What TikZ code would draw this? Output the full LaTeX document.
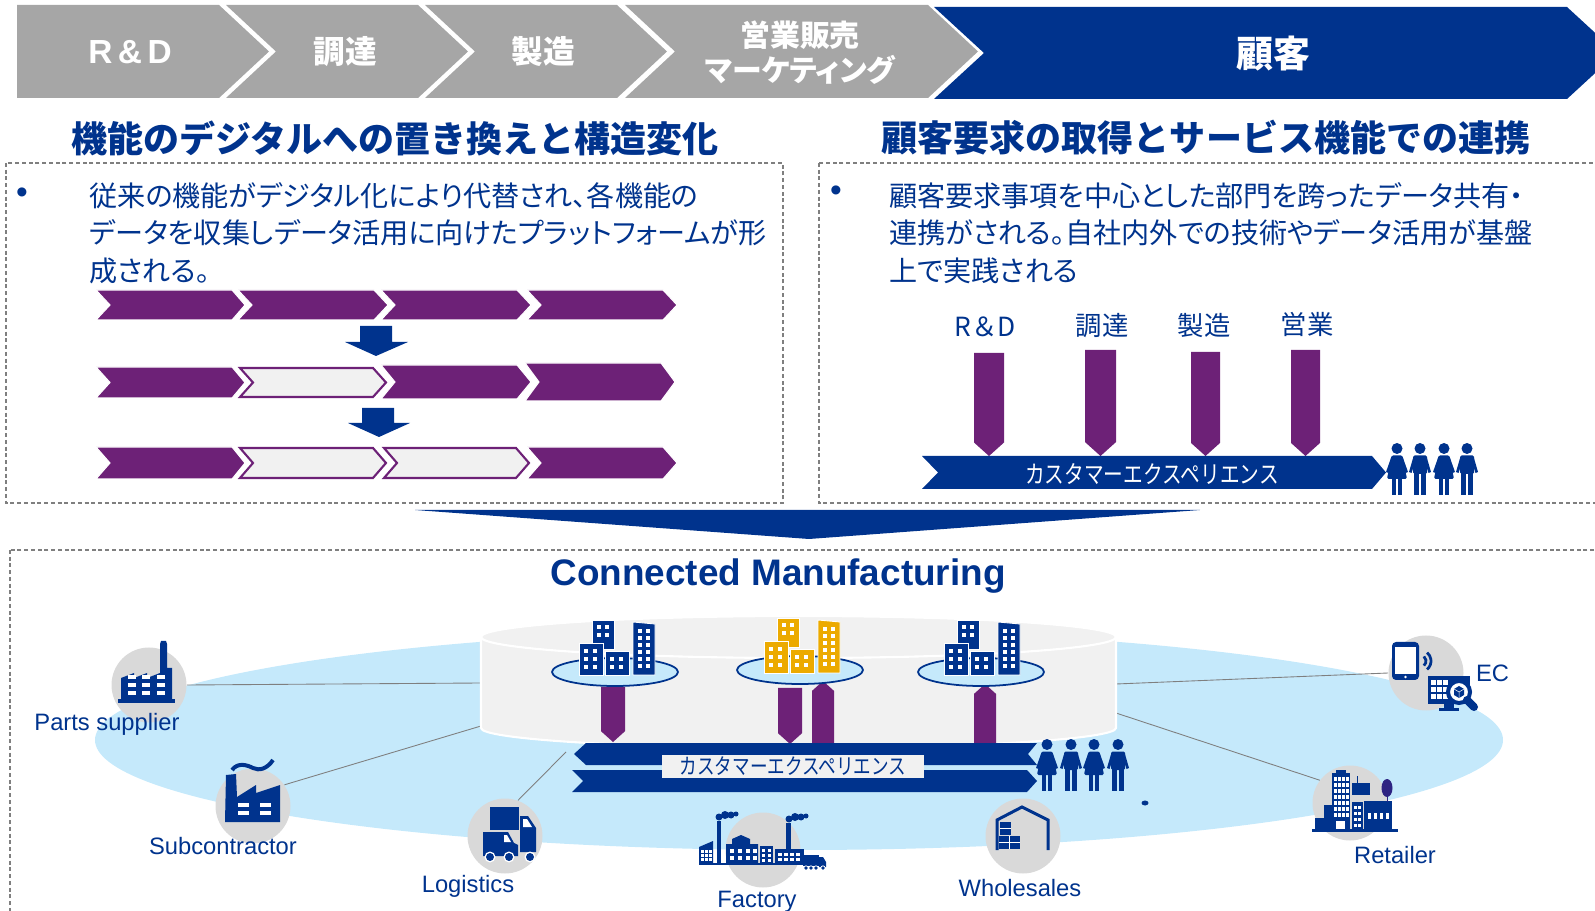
\documentclass[tikz,border=0pt]{standalone}
\usepackage{fontspec}
\setmainfont{Liberation Sans}
\newfontfamily\jp{Noto Sans CJK JP}
\newfontfamily\jpp[RawFeature=+palt]{Noto Sans CJK JP}
\newfontfamily\jpn[FakeStretch=0.8]{Noto Sans CJK JP}
\usetikzlibrary{positioning}

\definecolor{navy}{RGB}{0,51,141}
\definecolor{plum}{RGB}{109,33,119}
\definecolor{stepgray}{RGB}{166,166,166}
\definecolor{paper}{RGB}{241,241,241}
\definecolor{sky}{RGB}{197,233,251}
\definecolor{disc}{RGB}{217,217,217}
\definecolor{amber}{RGB}{236,170,0}
\definecolor{rule}{RGB}{127,127,127}
\definecolor{tree}{RGB}{45,35,130}

% chevron: [style]{left}{right}{top}{bottom}{tip depth}{notch depth}
\newcommand{\chev}[7][]{\path[#1] (#2,#4) -- (#3,#4) -- ({#3+#6},{(#4+#5)/2}) -- (#3,#5) -- (#2,#5) -- ({#2+#7},{(#4+#5)/2}) -- cycle;}
% bar pointing down: [style]{left}{right}{top}{tip}
\newcommand{\dbar}[5][]{\path[#1] (#2,#4) -- (#3,#4) -- (#3,{#5-0.45*(#3-#2)}) -- ({(#2+#3)/2},#5) -- (#2,{#5-0.45*(#3-#2)}) -- cycle;}
% bar pointing up: [style]{left}{right}{tip}{bottom}
\newcommand{\ubar}[5][]{\path[#1] (#2,#5) -- (#2,{#4+0.45*(#3-#2)}) -- ({(#2+#3)/2},#4) -- (#3,{#4+0.45*(#3-#2)}) -- (#3,#5) -- cycle;}

\tikzset{
  pics/man/.style={code={
    \fill[navy] (0,5.5) circle[radius=5.5];
    \fill[navy, rounded corners=0.3mm] (-7,12.5) rectangle (7,31);
    \fill[navy] (-6.5,13.5) -- (-11,29) -- (-8.5,30) -- (-4.5,18) -- cycle;
    \fill[navy] (6.5,13.5) -- (11,29) -- (8.5,30) -- (4.5,18) -- cycle;
    \fill[navy] (-6,29) rectangle (-0.7,52);
    \fill[navy] (0.7,29) rectangle (6,52);
  }},
  pics/woman/.style={code={
    \fill[navy] (0,5.5) circle[radius=5.5];
    \fill[navy, rounded corners=0.3mm] (-5.5,12.5) -- (5.5,12.5) -- (10,36) -- (-10,36) -- cycle;
    \fill[navy] (-5.5,13.5) -- (-11,29) -- (-8.5,30) -- (-4,18) -- cycle;
    \fill[navy] (5.5,13.5) -- (11,29) -- (8.5,30) -- (4,18) -- cycle;
    \fill[navy] (-4.8,35) rectangle (-1.2,52);
    \fill[navy] (1.2,35) rectangle (4.8,52);
  }},
  pics/city/.style={code={
    \begin{scope}[fill=#1, draw=white, line width=0.5pt]
      \filldraw (13,-55) rectangle (35,-26);
      \filldraw (0,-32) rectangle (24,0);
      \filldraw (26,-24) rectangle (50,0);
      \filldraw (54,-53) -- (76,-51) -- (76,0) -- (54,0) -- cycle;
    \end{scope}
    \foreach \u in {18,26} \foreach \v in {-50,-42} \fill[white] (\u,\v) rectangle +(4,4);
    \foreach \u in {5,14} \foreach \v in {-26,-18,-10} \fill[white] (\u,\v) rectangle +(4,4);
    \foreach \u in {31,40} \foreach \v in {-18,-10} \fill[white] (\u,\v) rectangle +(4,4);
    \foreach \u in {59,67} \foreach \v in {-46,-39,-32,-25,-18,-11} \fill[white] (\u,\v) rectangle +(4,4);
  }},
  pics/mill/.style={code={
    \fill[navy] (-28,15) -- (-28,-7) -- (-15,-12) -- (-15,-7) -- (-2,-12) -- (-2,-7) -- (11,-12) -- (11,-41) -- (12,-44) -- (17,-44) -- (18,-41) -- (18,-17) -- (23,-17) -- (23,15) -- cycle;
    \fill[navy] (-31,14) rectangle (26,18);
    \foreach \u in {-21,-7,8} \foreach \v in {-10,-2,6} \fill[white] (\u,\v) rectangle +(8,4);
  }},
  pics/works/.style={code={
    \fill[navy] (-28,16) -- (-27,-31) -- (-17,-32) -- (-16,-9) -- (3,-21) -- (3,-13) -- (27,-21) -- (27,16) -- cycle;
    \foreach \u in {-15,7} \foreach \v in {-3,5} \fill[white] (\u,\v) rectangle +(11,4);
    \draw[navy, line width=0.8mm] (-21,-36) .. controls (-15,-44) and (-6,-41) .. (0,-38) .. controls (6,-35) and (14,-37) .. (20,-46);
  }},
  pics/truck/.style={code={
    \fill[navy] (-15,-29) rectangle (14,-6);
    \fill[navy] (15,-20) -- (23,-20) -- (31,-8) -- (31,16) -- (15,16) -- cycle;
    \fill[white] (18,-17) -- (22,-17) -- (27,-9) -- (18,-9) -- cycle;
    \fill[navy] (-22,-4) -- (3,-4) -- (9,7) -- (13,9) -- (13,20) -- (-22,20) -- cycle;
    \fill[white] (-1,-1) -- (2,-1) -- (6,6) -- (-1,6) -- cycle;
    \foreach \u in {-15,4,25} {\fill[white] (\u,21) circle[radius=5.5]; \fill[navy] (\u,21) circle[radius=4];}
  }},
  pics/plant/.style={code={
    \fill[navy] (-64,-3) -- (-50,-9) -- (-50,14) -- (-64,14) -- cycle;
    \foreach \u in {-62,-58,-54} \foreach \v in {0,4,8} \fill[white] (\u,\v) rectangle +(2.5,2.5);
    \fill[navy] (-46,-29) rectangle (-42,14);
    \fill[navy] (-44,-33) circle[radius=3.5] (-38,-35) circle[radius=4] (-32,-35) circle[radius=3.5] (-27,-36) circle[radius=2.5];
    \fill[navy] (-37,14) -- (-37,-6) -- (-31,-6) -- (-31,-11) -- (-22,-15) -- (-13,-11) -- (-13,-6) -- (-5,-6) -- (-5,14) -- cycle;
    \foreach \u in {-33,-25,-17,-10} \foreach \v in {-1,6} \fill[white] (\u,\v) rectangle +(4,3.5);
    \fill[navy] (-3,-4) rectangle (10,14);
    \foreach \u in {-1,5} \foreach \v in {-1,4,9} \fill[white] (\u,\v) rectangle +(3,2.5);
    \fill[navy] (23,-27) rectangle (28,0);
    \fill[navy] (26,-31) circle[radius=3.5] (32,-33) circle[radius=4] (38,-33) circle[radius=3.5] (43,-34) circle[radius=2.5];
    \fill[navy] (12,14) -- (12,-1) -- (41,-1) -- (41,14) -- cycle;
    \foreach \u in {15,21,27,33} \foreach \v in {3,8} \fill[white] (\u,\v) rectangle +(3.5,3);
    \fill[navy] (40,5) rectangle (56,16);
    \fill[navy] (56,7) -- (60,7) -- (63,12) -- (63,17) -- (56,17) -- cycle;
    \fill[navy] (-64,13) rectangle (63,15);
    \foreach \u in {43,48,53,60} {\fill[white] (\u,18) circle[radius=2.6]; \fill[navy] (\u,18) circle[radius=1.8];}
  }},
  pics/store/.style={code={
    \draw[navy, line width=0.6mm] (-26,14) -- (-26,-16) -- (-1,-29) -- (25,-16) -- (25,14);
    \fill[navy] (-23,-14) rectangle (-12,-1);
    \fill[navy] (-24,0) rectangle (-3,13);
    \draw[white, line width=0.3pt] (-24,6.5) -- (-3,6.5) (-13.5,0) -- (-13.5,13) (-23,-8) -- (-12,-8);
  }},
  pics/shops/.style={code={
    \fill[navy] (-38,26) rectangle (48,29);
    \fill[navy] (-35,15) rectangle (-24,27);
    \fill[navy] (-26,2) rectangle (-17,27);
    \fill[navy] (-14,-33) rectangle (-4,-29);
    \fill[navy] (-18,-30) rectangle (0,27);
    \foreach \u in {-16,-12,-8,-4} \foreach \v in {-26,-20,-14,-8,-2,4,10} \fill[white] (\u,\v) rectangle +(2.5,3.5);
    \fill[white] (-14,18) rectangle (-5,26);
    \fill[navy] (2,-1) rectangle (13,27);
    \foreach \u in {4,8} \foreach \v in {3,9,15,21} \fill[white] (\u,\v) rectangle +(2.5,3);
    \fill[navy] (7,-27) rectangle (8,-20);
    \fill[navy] (2,-20) rectangle (20,-8);
    \fill[navy] (14,-2) rectangle (42,27);
    \foreach \u in {18,24,30,36} \fill[white] (\u,10) rectangle +(3,6);
    \fill[tree] (37,-15) ellipse[x radius=5.5, y radius=9];
    \fill[tree] (36.5,-6) rectangle (38,-1);
  }},
  pics/ecom/.style={code={
    \fill[navy, rounded corners=0.8mm] (-34,-31) rectangle (-7,7);
    \fill[white] (-31,-26) rectangle (-10,1);
    \fill[white] (-20.5,4) circle[radius=1.3];
    \draw[navy, line width=0.55mm] (-6,-12) ++(50:6) arc[start angle=50, end angle=-50, radius=6];
    \draw[navy, line width=0.55mm] (-6,-12) ++(50:11) arc[start angle=50, end angle=-50, radius=11];
    \fill[navy] (2,3) rectangle (44,31);
    \foreach \u in {5,11,17} \foreach \v in {7,14,21} \fill[white] (\u,\v) rectangle +(4.5,5);
    \fill[navy] (18,31) rectangle (28,35);
    \fill[navy] (13,35) rectangle (33,38);
    \filldraw[fill=white, draw=navy, line width=0.8mm] (33,19) circle[radius=11];
    \draw[navy, line width=1.6mm, line cap=round] (41,27) -- (48,34);
    \fill[navy] (33,13) -- (38,16) -- (38,22) -- (33,25) -- (28,22) -- (28,16) -- cycle;
    \draw[white, line width=0.3pt] (28,16) -- (33,19) -- (38,16) (33,19) -- (33,25);
  }}
}

\begin{document}
\begin{tikzpicture}
[
x=0.2mm, y=-0.2mm,
dashbox/.style={draw=rule, line width=0.75pt, dash pattern=on 0.8mm off 0.55mm},
stagename/.style={font=\jp\bfseries\fontsize{18}{21}\selectfont, text=white, align=center},
heading/.style={font=\jp\bfseries\fontsize{20.5}{24}\selectfont, text=navy},
body/.style={font=\jpp\fontsize{16}{21.3}\selectfont, text=navy, align=left, anchor=north west, inner sep=0pt},
bullet/.style={font=\fontsize{19}{20}\selectfont, text=navy},
tag/.style={font=\jp\fontsize{15}{18}\selectfont, text=navy},
plumchev/.style={fill=plum, draw=white, line width=0.6pt},
litechev/.style={fill=paper, draw=plum, line width=1.2pt},
cx/.style={font=\jpn\fontsize{14}{16}\selectfont, text=white},
hub/.style={circle, fill=disc, minimum size=15mm, inner sep=0pt},
sitename/.style={font=\fontsize{13.5}{16}\selectfont, text=navy},
link/.style={draw=rule, line width=0.5pt}
]
\useasboundingbox (0,0) rectangle (1595,911);

% value chain
\chev[fill=stepgray]{17}{219}{5}{98}{50}{0}
\chev[fill=stepgray]{226}{418}{5}{98}{50}{50}
\chev[fill=stepgray]{425}{617}{5}{98}{50}{50}
\chev[fill=stepgray]{625}{928}{5}{98}{50}{50}
\chev[fill=navy]{934}{1567}{7}{99}{50}{50}
\node[stagename, font=\bfseries\fontsize{19}{22}\selectfont] (rd-step) at (130,52) {R\,\&\,D};
\node[stagename] (buy-step)  at (345,52) {調達};
\node[stagename] (make-step) at (543,52) {製造};
\node[stagename, font=\jpp\bfseries\fontsize{17}{20}\selectfont] (sell-step) at (800,53) {営業販売\\マーケティング};
\node[stagename, font=\jp\bfseries\fontsize{21}{24}\selectfont] (cust-step) at (1273,54) {顧客};

% two panels
\node[heading] (left-title)  at (395,138)  {機能のデジタルへの置き換えと構造変化};
\node[heading] (right-title) at (1206,138) {顧客要求の取得とサービス機能での連携};
\draw[dashbox] (6,163) rectangle (783,503);
\draw[dashbox] (819,163) rectangle (1605,503);

\node[bullet] (left-dot) at (22,196) {\textbullet};
\node[body] (left-text) at (89,182) {従来の機能がデジタル化により代替され、各機能の\\データを収集しデータ活用に向けたプラットフォームが形\\成される。};
\node[bullet] (right-dot) at (836,194) {\textbullet};
\node[body] (right-text) at (889,182) {顧客要求事項を中心とした部門を跨ったデータ共有・\\連携がされる。自社内外での技術やデータ活用が基盤\\上で実践される};

% functions replaced step by step
\chev[plumchev]{96}{232}{290}{320}{13}{14}
\chev[plumchev]{238}{374}{290}{320}{14}{14}
\chev[plumchev]{381}{517}{290}{320}{14}{14}
\chev[plumchev]{527}{663}{290}{320}{14}{14}
\fill[navy] (360,326) -- (392,326) -- (392,342) -- (408,342) -- (376,356) -- (345,342) -- (360,342) -- cycle;
\chev[plumchev]{96}{232}{367}{398}{13}{14}
\chev[litechev]{240}{373}{368}{397}{13}{13}
\chev[plumchev]{381}{517}{365}{399}{14}{14}
\chev[plumchev]{525}{661}{363}{401}{14}{14}
\fill[navy] (362,408) -- (394,408) -- (394,423) -- (410,423) -- (379,437) -- (348,423) -- (362,423) -- cycle;
\chev[plumchev]{96}{232}{447}{479}{13}{14}
\chev[litechev]{240}{373}{448}{478}{13}{13}
\chev[litechev]{384}{516}{448}{478}{13}{13}
\chev[plumchev]{527}{663}{447}{479}{14}{14}

% departments feeding the customer experience
\node[tag] (rd-tag)   at (985,327)  {R＆D};
\node[tag] (buy-tag)  at (1102,326) {調達};
\node[tag] (make-tag) at (1204,326) {製造};
\node[tag] (sell-tag) at (1307,324) {営業};
\dbar[fill=plum]{974}{1004}{353}{456}
\dbar[fill=plum]{1085}{1116}{350}{456}
\dbar[fill=plum]{1191}{1220}{352}{456}
\dbar[fill=plum]{1291}{1320}{350}{456}
\chev[fill=navy]{922}{1372}{456}{489}{14}{16}
\node[cx] (cx-top) at (1152,474) {カスタマーエクスペリエンス};
\pic at (1397,443) {woman};
\pic at (1420,443) {man};
\pic at (1444,443) {woman};
\pic at (1467,443) {man};

\fill[navy] (415,510) -- (1200,510) -- (809,539) -- cycle;

% connected manufacturing
\draw[dashbox] (10,550) rectangle (1605,925);
\node[heading, font=\bfseries\fontsize{21}{24}\selectfont] (cm-title) at (778,576) {Connected Manufacturing};
\fill[sky] (799,740) ellipse[x radius=704, y radius=110];

\node[hub] (supplier)  at (149,685)  {};
\node[hub] (subcon)    at (253,806)  {};
\node[hub] (logistics) at (505,836)  {};
\node[hub] (factory)   at (763,850)  {};
\node[hub] (wholesale) at (1023,836) {};
\node[hub] (retail)    at (1350,803) {};
\node[hub] (ec)        at (1426,673) {};

\coordinate (cyl-w1) at (481,683);
\coordinate (cyl-w2) at (481,726);
\coordinate (bar-w)  at (566,752);
\coordinate (cyl-e1) at (1116,684);
\coordinate (cyl-e2) at (1116,713);
\draw[link] (supplier.east) -- (cyl-w1);
\draw[link] (subcon.34) -- (cyl-w2);
\draw[link] (logistics.70) -- (bar-w);
\draw[link] (ec.west) -- (cyl-e1);
\draw[link] (retail.143) -- (cyl-e2);

% platform
\fill[paper] (481,637) -- (481,728) arc[start angle=180, end angle=0, x radius=317.5, y radius=20] -- (1116,637) -- cycle;
\draw[white, line width=1.2pt] (481,637) -- (481,728) arc[start angle=180, end angle=0, x radius=317.5, y radius=20] -- (1116,637);
\filldraw[fill=paper, draw=white, line width=1.2pt] (798.5,637) ellipse[x radius=317.5, y radius=21];

\dbar[fill=plum]{601}{625}{687}{742}
\dbar[fill=plum]{778}{802}{688}{744}
\ubar[fill=plum]{812}{834}{681}{743}
\ubar[fill=plum]{974}{996}{684}{745}

\filldraw[fill=sky, draw=navy, line width=1pt] (615,672) ellipse[x radius=63, y radius=14];
\filldraw[fill=sky, draw=navy, line width=1pt] (800,670) ellipse[x radius=63, y radius=14];
\filldraw[fill=sky, draw=navy, line width=1pt] (981,672) ellipse[x radius=63, y radius=14];
\pic at (579,675) {city=navy};
\pic at (764,673) {city=amber};
\pic at (944,675) {city=navy};

\fill[navy] (574,754) -- (586,743) -- (1037,743) -- (1028,754) -- (1037,765) -- (586,765) -- cycle;
\chev[fill=navy]{572}{1027}{770}{792}{10}{11}
\node[fill=paper, minimum width=52.4mm, minimum height=4.6mm, inner sep=0pt, font=\jpn\fontsize{12.5}{14}\selectfont, text=navy] (cx-bottom) at (793,766) {カスタマーエクスペリエンス};
\pic at (1047,739) {woman};
\pic at (1071,739) {man};
\pic at (1094,739) {woman};
\pic at (1118,739) {man};
\fill[navy] (1145,803) ellipse[x radius=3.5, y radius=2.5];

% partners around the platform
\pic at (supplier.center)  {mill};
\pic at (subcon.center)    {works};
\pic at (logistics.center) {truck};
\pic at (factory.center)   {plant};
\pic at (wholesale.center) {store};
\pic at (retail.center)    {shops};
\pic at (ec.center)        {ecom};

\node[sitename] (supplier-name)  at (107,724)  {Parts supplier};
\node[sitename] (subcon-name)    at (223,846)  {Subcontractor};
\node[sitename] (logistics-name) at (468,886)  {Logistics};
\node[sitename] (factory-name)   at (757,902)  {Factory};
\node[sitename] (wholesale-name) at (1020,888) {Wholesales};
\node[sitename] (retail-name)    at (1395,855) {Retailer};
\node[sitename, right=1.2mm of ec] (ec-name) {EC};
\end{tikzpicture}
\end{document}
